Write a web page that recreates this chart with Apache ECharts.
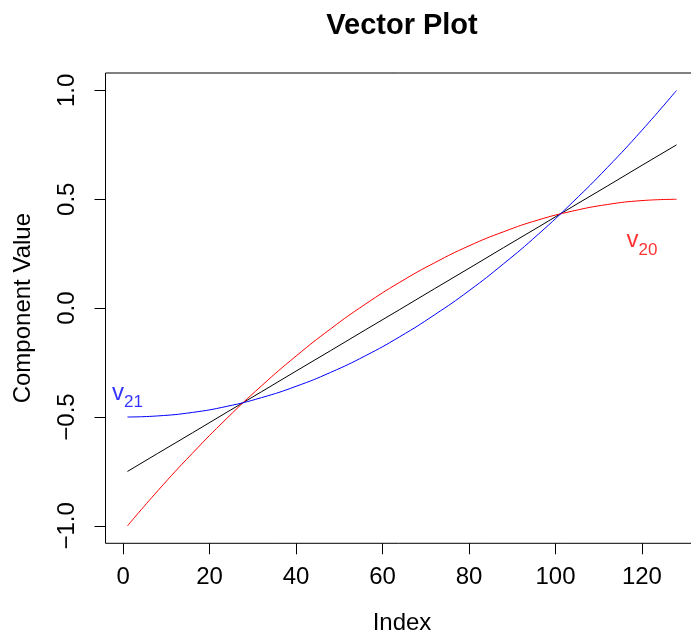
<!DOCTYPE html>
<html>
<head>
<meta charset="utf-8">
<script src="https://cdn.jsdelivr.net/npm/echarts@6/dist/echarts.min.js"></script>
<style>
  html, body { margin: 0; padding: 0; background: #fff; }
  #chart { width: 691px; height: 632px; }
</style>
</head>
<body>
<div id="chart"></div>
<script>
const indexValues = [1, 8, 16, 24, 32, 40, 48, 56, 64, 72, 80, 88, 96, 104, 112, 120, 128];
const v20Values = [-1.0, -0.839, -0.667, -0.506, -0.357, -0.220, -0.095, 0.018, 0.119, 0.208, 0.286, 0.351, 0.405, 0.446, 0.476, 0.494, 0.5];
const v21Values = [-0.5, -0.495, -0.479, -0.451, -0.411, -0.359, -0.295, -0.219, -0.131, -0.031, 0.080, 0.204, 0.339, 0.487, 0.646, 0.817, 1.0];
const meanValues = [-0.75, -0.667, -0.573, -0.478, -0.384, -0.289, -0.195, -0.100, -0.006, 0.089, 0.183, 0.278, 0.372, 0.467, 0.561, 0.656, 0.75];

const xTicks = [0, 20, 40, 60, 80, 100, 120];
const yTicks = [-1.0, -0.5, 0.0, 0.5, 1.0];

// Curve labels: [x, y, subscript]
const v21Label = [1, -0.39, '21'];
const v20Label = [120, 0.31, '20'];

const FONT = 'Liberation Sans, Arial, Helvetica, sans-serif';

function pairs(xs, ys) { return xs.map((x, i) => [x, ys[i]]); }

const chart = echarts.init(document.getElementById('chart'), null, { renderer: 'canvas' });

const labelRich = (color) => ({
  v: { fontSize: 24, lineHeight: 24, verticalAlign: 'top', color: color, fontFamily: FONT },
  s: { fontSize: 17, lineHeight: 17, verticalAlign: 'top', padding: [13, 0, 0, 0], color: color, fontFamily: FONT }
});

const option = {
  animation: false,
  backgroundColor: '#ffffff',
  title: {
    text: 'Vector Plot',
    left: 402,
    top: 11,
    padding: 0,
    textAlign: 'center',
    textStyle: { fontSize: 29, fontWeight: 'bold', color: '#000', fontFamily: FONT }
  },
  grid: {
    left: 105.5,
    right: -7.5,
    top: 73,
    bottom: 88.7,
    outerBoundsMode: 'none',
    containLabel: false,
    show: true,
    borderColor: '#000',
    borderWidth: 1,
    backgroundColor: 'transparent'
  },
  xAxis: {
    type: 'value',
    min: -4.08,
    max: 133.08,
    name: 'Index',
    nameLocation: 'middle',
    nameGap: 68,
    nameTextStyle: { fontSize: 24, color: '#000', fontFamily: FONT },
    axisLine: { show: false, onZero: false },
    splitLine: { show: false },
    axisTick: { show: true, inside: false, length: 11, customValues: xTicks, lineStyle: { color: '#000', width: 1 } },
    axisLabel: { show: true, customValues: xTicks, margin: 22, fontSize: 24, color: '#000', fontFamily: FONT }
  },
  yAxis: {
    type: 'value',
    min: -1.08,
    max: 1.08,
    name: 'Component Value',
    nameLocation: 'middle',
    nameRotate: 90,
    nameGap: 70,
    nameTextStyle: { fontSize: 24, color: '#000', fontFamily: FONT },
    axisLine: { show: false, onZero: false },
    splitLine: { show: false },
    axisTick: { show: true, inside: false, length: 11, customValues: yTicks, lineStyle: { color: '#000', width: 1 } },
    axisLabel: {
      show: true, customValues: yTicks, rotate: 90, margin: 26, fontSize: 24, color: '#000', fontFamily: FONT,
      formatter: (v) => (v < 0 ? '\u2212' : '') + Math.abs(v).toFixed(1)
    }
  },
  series: [
    {
      name: 'mean', type: 'line', data: pairs(indexValues, meanValues),
      showSymbol: false, symbol: 'none', lineStyle: { color: '#000000', width: 1 }, silent: true
    },
    {
      name: 'v20', type: 'line', data: pairs(indexValues, v20Values), smooth: true,
      showSymbol: false, symbol: 'none', lineStyle: { color: '#ff0000', width: 1 }, silent: true
    },
    {
      name: 'v21', type: 'line', data: pairs(indexValues, v21Values), smooth: true,
      showSymbol: false, symbol: 'none', lineStyle: { color: '#0000ff', width: 1 }, silent: true
    },
    {
      name: 'labels', type: 'scatter', symbolSize: 0, silent: true,
      data: [
        { value: [v21Label[0], v21Label[1]], label: { formatter: '{v|v}{s|' + v21Label[2] + '}', rich: labelRich('#0000ff') } },
        { value: [v20Label[0], v20Label[1]], label: { formatter: '{v|v}{s|' + v20Label[2] + '}', rich: labelRich('#ff0000') } }
      ],
      label: { show: true, position: 'inside', align: 'center', verticalAlign: 'middle' }
    }
  ]
};

chart.setOption(option);
</script>
</body>
</html>
